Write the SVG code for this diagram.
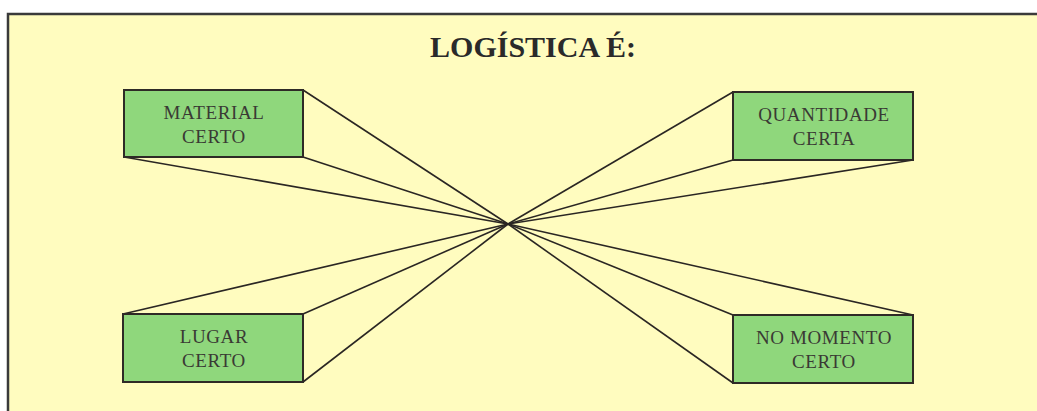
<svg xmlns="http://www.w3.org/2000/svg" width="1037" height="411" viewBox="0 0 1037 411">
<style>
.bg{fill:#fffcbf}
.frame{fill:none;stroke:#3a3a3a;stroke-width:2.5}
.box{fill:#8fd77c;stroke:#2e2a26;stroke-width:2}
.lbl{font-family:"Liberation Serif","Times New Roman",serif;font-size:19px;letter-spacing:0.6px;fill:#3a3a34;text-anchor:middle}
.title{font-family:"Liberation Serif","Times New Roman",serif;font-size:30px;font-weight:bold;fill:#2a2a2a;text-anchor:middle}
.conn line{stroke:#2a2623;stroke-width:1.6}
</style>
<rect x="0" y="0" width="1037" height="411" fill="#ffffff"/>
<rect class="bg" x="8" y="14" width="1040" height="410"/>
<path class="frame" d="M8,420 V14 H1045"/>
<text class="title" x="533" y="57">LOGÍSTICA É:</text>
<g id="connectors" class="conn">
<line x1="303" y1="90" x2="508" y2="224"/>
<line x1="303" y1="157" x2="508" y2="224"/>
<line x1="124" y1="157" x2="508" y2="224"/>
<line x1="733" y1="92" x2="508" y2="224"/>
<line x1="733" y1="160" x2="508" y2="224"/>
<line x1="913" y1="160" x2="508" y2="224"/>
<line x1="123" y1="314" x2="508" y2="224"/>
<line x1="303" y1="314" x2="508" y2="224"/>
<line x1="303" y1="382" x2="508" y2="224"/>
<line x1="733" y1="315" x2="508" y2="224"/>
<line x1="913" y1="315" x2="508" y2="224"/>
<line x1="733" y1="383" x2="508" y2="224"/>
</g>
<g id="material">
<rect class="box" x="124" y="90" width="179" height="67"/>
<text class="lbl" x="214" y="119">MATERIAL</text>
<text class="lbl" x="214" y="143">CERTO</text>
</g>
<g id="quantidade">
<rect class="box" x="733" y="92" width="180" height="68"/>
<text class="lbl" x="824" y="121">QUANTIDADE</text>
<text class="lbl" x="824" y="145">CERTA</text>
</g>
<g id="lugar">
<rect class="box" x="123" y="314" width="180" height="68"/>
<text class="lbl" x="214" y="343">LUGAR</text>
<text class="lbl" x="214" y="367">CERTO</text>
</g>
<g id="momento">
<rect class="box" x="733" y="315" width="180" height="68"/>
<text class="lbl" x="824" y="344">NO MOMENTO</text>
<text class="lbl" x="824" y="368">CERTO</text>
</g>
</svg>
